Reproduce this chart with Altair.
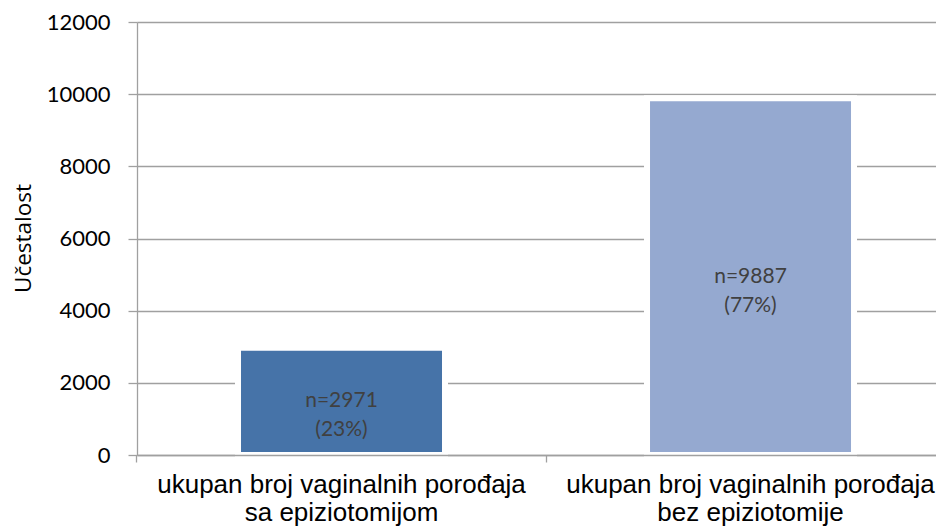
import altair as alt
import pandas as pd

categories = [
    "ukupan broj vaginalnih porođaja\nsa epiziotomijom",
    "ukupan broj vaginalnih porođaja\nbez epiziotomije",
]
values = [2971, 9887]
colors = ["#4673A8", "#95A9D0"]

total = sum(values)
labels = [f"n={v}\n({round(v / total * 100)}%)" for v in values]

df = pd.DataFrame({"cat": categories, "val": values, "lab": labels, "col": colors})

x_enc = alt.X(
    "cat:N",
    sort=categories,
    title=None,
    scale=alt.Scale(paddingInner=0.4939, paddingOuter=0.2237, align=0.552),
    axis=alt.Axis(
        labelAngle=0,
        labelExpr="split(datum.label, '\\n')",
        labelFont="Liberation Sans",
        labelFontSize=26,
        labelLineHeight=28,
        labelColor="#000000",
        labelPadding=9,
        labelLimit=0,
        bandPosition=-0.488,
        tickSize=7,
        tickColor="#A0A0A0",
        tickWidth=1.3,
        domainColor="#A0A0A0",
        domainWidth=1.3,
        zindex=1,
    ),
)

y_enc = alt.Y(
    "val:Q",
    scale=alt.Scale(domain=[0, 12000], nice=False),
    axis=alt.Axis(
        values=[0, 2000, 4000, 6000, 8000, 10000, 12000],
        format="d",
        title="Učestalost",
        titleFont="Open Sans",
        titleFontSize=22.5,
        titleFontWeight="normal",
        titleColor="#000000",
        titleAngle=270,
        titleX=-114,
        titleY=216,
        titleAlign="center",
        titleBaseline="middle",
        labelFont="Lato",
        labelFontSize=22,
        labelColor="#000000",
        labelPadding=18,
        tickSize=9,
        tickColor="#A0A0A0",
        tickWidth=1.3,
        domainColor="#A0A0A0",
        domainWidth=1.3,
        gridColor="#A0A0A0",
        gridWidth=1.3,
        grid=True,
    ),
)

bars = alt.Chart(df).mark_bar(stroke="white", strokeWidth=6).encode(
    x=x_enc,
    y=y_enc,
    color=alt.Color("col:N", scale=None),
)

text = alt.Chart(df).transform_calculate(mid="datum.val / 2").mark_text(
    font="Lato", fontSize=21, color="#404040", lineBreak="\n", lineHeight=29,
    baseline="middle", align="center",
).encode(
    x=alt.X("cat:N", sort=categories),
    y=alt.Y("mid:Q"),
    text="lab:N",
)

chart = alt.layer(bars, text).properties(
    width=799,
    height=433,
    autosize=alt.AutoSizeParams(type="none"),
    padding={"left": 129, "top": 14, "right": 0, "bottom": 76},
).configure_view(stroke=None)

chart.save("out.html", embed_options={"renderer": "svg", "actions": False})
